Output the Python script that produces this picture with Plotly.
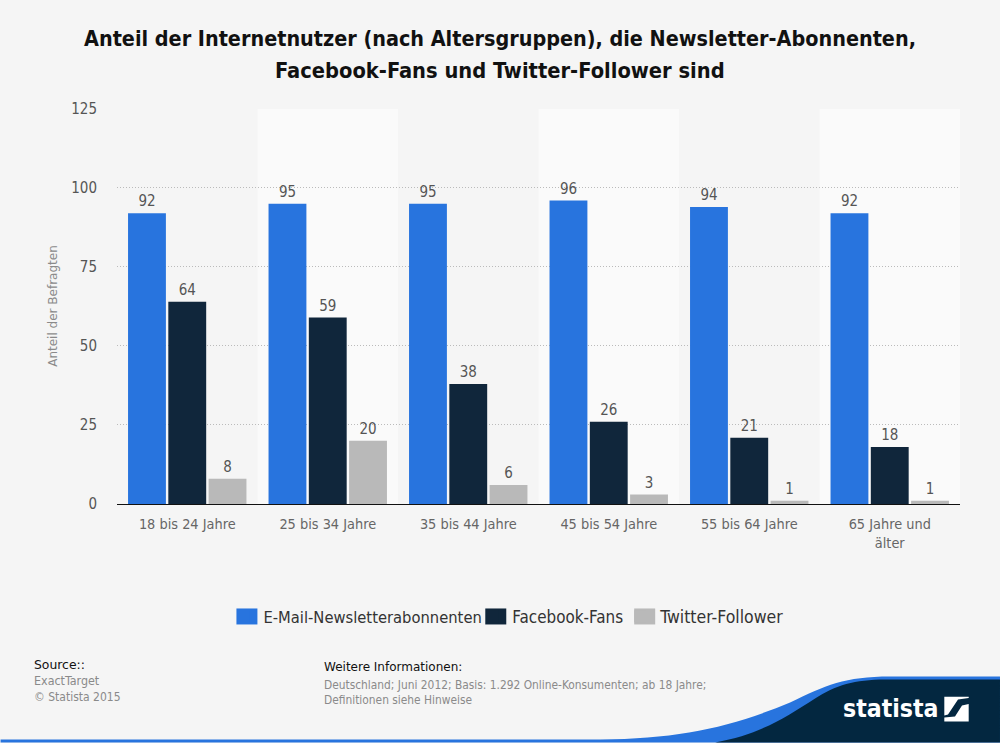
import plotly.graph_objects as go

categories = ["18 bis 24 Jahre", "25 bis 34 Jahre", "35 bis 44 Jahre", "45 bis 54 Jahre", "55 bis 64 Jahre", "65 Jahre und<br>älter"]
newsletter = [92, 95, 95, 96, 94, 92]
facebook = [64, 59, 38, 26, 21, 18]
twitter = [8, 20, 6, 3, 1, 1]
series_names = ["E-Mail-Newsletterabonnenten", "Facebook-Fans", "Twitter-Follower"]
series_colors = ["#2874DE", "#10263B", "#B9B9B9"]
y_ticks = [0, 25, 50, 75, 100, 125]
Y_MAX = 125.3

W, H = 1000, 743
ML, MR, MT, MB = 116.5, 40, 108.4, 238.5
FONT = "DejaVu Sans Condensed, DejaVu Sans"
BG = "#F5F5F5"


def px(x):
    return (x - ML) / (W - ML - MR)


def py(y):
    return 1 - (y - MT) / (H - MT - MB)


def P(x, y):
    return f"{px(x):.5f},{py(y):.5f}"


def poly(points):
    return "M " + " L ".join(P(*p) for p in points) + " Z"


fig = go.Figure()
legend_ids = ["legend2", "legend3", "legend4"]
for name, vals, col, lg in zip(series_names, [newsletter, facebook, twitter], series_colors, legend_ids):
    fig.add_trace(go.Bar(
        x=categories, y=vals, name=name, text=vals, textposition="outside", cliponaxis=False, legend=lg,
        textfont=dict(family=FONT, size=15, color="#555555"),
        marker=dict(color=col, line=dict(width=0)),
    ))

shapes = []
for i in (1, 3, 5):
    shapes.append(dict(type="rect", xref="x", yref="y", x0=i - 0.5, x1=i + 0.5, y0=0, y1=125,
                       fillcolor="#FAFAFA", line_width=0, layer="below"))

# legend swatches at the reference's larger size
for left, col in zip([236, 485, 634], series_colors):
    shapes.append(dict(type="rect", xref="paper", yref="paper", x0=px(left), x1=px(left + 21),
                       y0=py(625), y1=py(609), fillcolor=col, line_width=0, layer="above"))

# bottom rule and logo swoosh (decoration, positioned in page pixels)
blue_path = ("M " + P(0, 743) + " L " + P(0, 740) + " L " + P(600, 740) +
             " C " + P(680, 739) + " " + P(730, 728) + " " + P(790, 703) +
             " C " + P(825, 686) + " " + P(845, 677) + " " + P(890, 677) +
             " L " + P(1000, 677) + " L " + P(1000, 743) + " Z")
navy_path = ("M " + P(715, 743) + " C " + P(760, 735) + " " + P(785, 718) + " " + P(815, 699) +
             " C " + P(835, 686) + " " + P(855, 680) + " " + P(885, 680) +
             " L " + P(1000, 680) + " L " + P(1000, 743) + " Z")
icon_a = poly([(944.3, 697.3), (968.7, 697.3), (968.7, 698.5), (958, 700), (948, 715), (944.3, 716)])
icon_b = poly([(968.7, 704.5), (968.7, 722), (944.3, 722), (944.3, 718), (955, 717), (962, 706)])
for d, c in [(blue_path, "#2874DE"), (navy_path, "#032740"), (icon_a, "#FFFFFF"), (icon_b, "#FFFFFF")]:
    shapes.append(dict(type="path", xref="paper", yref="paper", path=d, fillcolor=c, line_width=0, layer="above"))


def note(x, y, text, size, color, family=FONT, anchor="left"):
    return dict(xref="paper", yref="paper", x=px(x), y=py(y), text=text, showarrow=False,
                xanchor=anchor, yanchor="middle", align="left", font=dict(family=family, size=size, color=color))


annotations = [
    note(500, 71, "<b>Facebook-Fans und Twitter-Follower sind</b>", 21.7, "#111111", anchor="center"),
    note(31, 665, "Source::", 12.4, "#111111", "DejaVu Sans"),
    note(31, 681.5, "ExactTarget", 12.4, "#8A8A8A"),
    note(31, 698, "© Statista 2015", 12, "#8A8A8A"),
    note(322, 668, "Weitere Informationen:", 12, "#111111", "DejaVu Sans"),
    note(322, 686, "Deutschland; Juni 2012; Basis: 1.292 Online-Konsumenten; ab 18 Jahre;", 11.85, "#8A8A8A"),
    note(322, 701, "Definitionen siehe Hinweise", 11.85, "#8A8A8A"),
    note(841, 709, "<b>statista</b>", 24.6, "#FFFFFF"),
]


def legend_at(text_x, size):
    return dict(orientation="h", x=px(text_x - 40), xanchor="left", y=py(617), yanchor="middle",
                font=dict(family=FONT, size=size, color="#333333"), itemclick=False, bgcolor="rgba(0,0,0,0)")


fig.update_layout(
    width=W, height=H, margin=dict(l=ML, r=MR, t=MT, b=MB, pad=0, autoexpand=False),
    paper_bgcolor=BG, plot_bgcolor=BG,
    barmode="group", bargap=0.14, bargroupgap=0.06,
    title=dict(text="<b>Anteil der Internetnutzer (nach Altersgruppen), die Newsletter-Abonnenten,</b>",
               x=0.5, xanchor="center", y=1 - 39 / H, yanchor="middle",
               font=dict(family=FONT, size=21.4, color="#111111")),
    xaxis=dict(showline=True, linecolor="#111111", linewidth=1, ticks="", ticklabelstandoff=7,
               tickfont=dict(family=FONT, size=14.4, color="#666666"), showgrid=False),
    yaxis=dict(range=[0, Y_MAX], tickvals=y_ticks, showline=False, ticks="", zeroline=False, ticklabelstandoff=19,
               gridcolor="#BBBBBB", griddash="1px,2px", gridwidth=1,
               tickfont=dict(family=FONT, size=15, color="#555555"),
               title=dict(text="Anteil der Befragten", standoff=11, font=dict(family="DejaVu Sans", size=12, color="#8A8A8A"))),
    legend2=legend_at(263, 16.4), legend3=legend_at(512, 16.9), legend4=legend_at(660, 17.5),
    shapes=shapes, annotations=annotations,
)

fig.write_html("out.html", config=dict(displayModeBar=False),
               post_script="document.body.style.margin='0';document.body.style.background='#F5F5F5';")
